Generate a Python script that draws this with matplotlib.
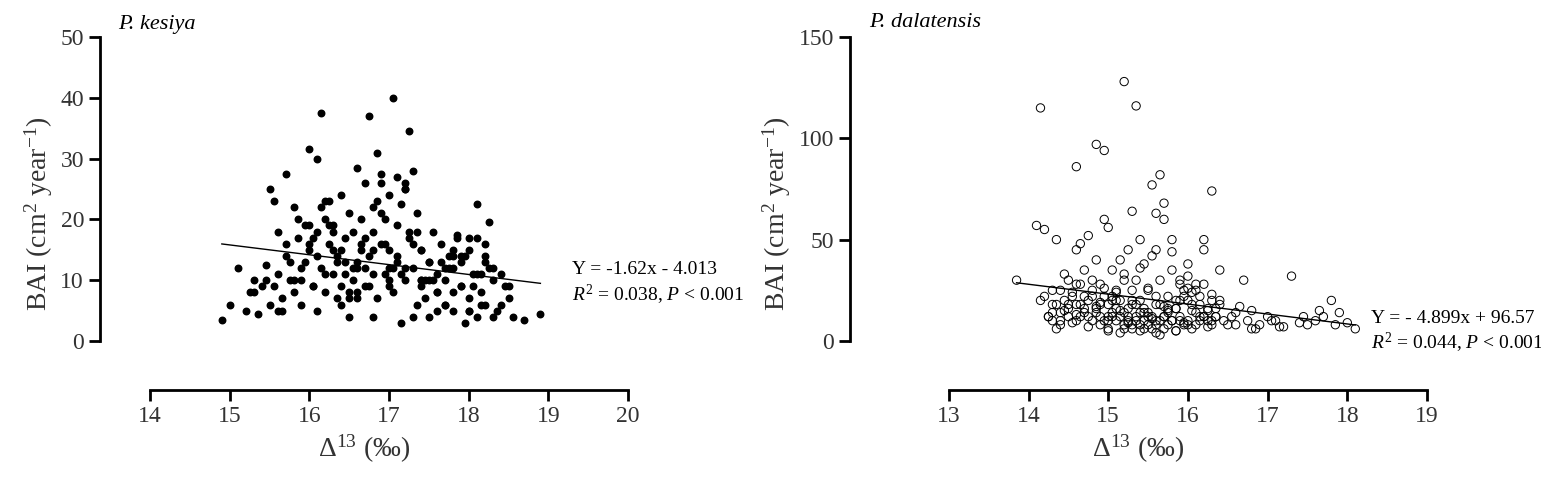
import numpy as np
import matplotlib
matplotlib.use("Agg")
import matplotlib.pyplot as plt

plt.rcParams['font.family'] = ['Liberation Serif', 'DejaVu Serif']
plt.rcParams['mathtext.fontset'] = 'custom'
plt.rcParams['mathtext.rm'] = 'Liberation Serif'
plt.rcParams['mathtext.it'] = 'Liberation Serif:italic'

# ---- P. kesiya (filled) ----
kes_x = [14.9,15.0,15.1,15.2,15.25,15.3,15.35,15.4,15.45,15.5,15.5,15.55,15.6,15.6,15.65,15.7,15.7,15.75,15.8,15.8,
         15.85,15.9,15.9,15.95,16.0,16.0,16.05,16.05,16.1,16.1,16.15,16.15,16.2,16.2,16.25,16.25,16.3,16.3,16.35,16.35,
         16.4,16.4,16.45,16.45,16.5,16.5,16.55,16.55,16.6,16.6,16.65,16.65,16.7,16.7,16.75,16.75,16.8,16.8,16.85,16.85,
         16.9,16.9,16.95,16.95,17.0,17.0,17.05,17.05,17.1,17.1,17.15,17.15,17.2,17.2,17.25,17.25,17.3,17.3,17.35,17.35,
         17.4,17.4,17.45,17.5,17.5,17.55,17.6,17.6,17.65,17.7,17.7,17.75,17.8,17.8,17.85,17.9,17.9,17.95,18.0,18.0,
         18.05,18.1,18.1,18.15,18.2,18.2,18.25,18.3,18.35,18.4,18.45,18.5,18.55,18.7,18.9,
         15.6,15.75,15.9,16.0,16.1,16.2,16.3,16.4,16.5,16.6,16.7,16.8,16.9,17.0,17.1,17.2,17.3,17.4,17.5,17.6,
         17.7,17.8,17.9,18.0,18.1,18.2,18.3,15.8,16.05,16.35,16.55,16.75,16.95,17.15,17.35,17.55,17.75,17.95,18.15,18.4,
         16.15,16.45,16.65,16.85,17.05,17.25,17.45,17.65,17.85,18.05,15.95,16.25,16.6,16.8,17.0,17.2,17.4,17.8,18.0,18.2,
         15.3,15.55,15.7,15.85,16.1,16.3,16.5,16.7,16.9,17.1,17.3,17.5,17.7,17.9,18.1,18.3,18.5,15.45,16.0,16.4,
         16.8,17.2,17.6,18.0,18.25,15.65,16.2,16.6,17.0,17.4,17.8,18.15]
kes_y = [3.5,6,12,5,8,10,4.5,9,12.5,25,6,23,11,5,7,14,27.5,10,8,22,
         17,12,6,19,15,31.5,9,17,30,5,37.5,12,20,8,16,23,11,18,7,14,
         24,9,17,13,21,4,18,10,28.5,8,15,20,12,26,37,9,22,18,31,7,
         16,27.5,11,20,15,24,40,8,13,19,22.5,3,26,10,34.5,17,12,28,6,21,
         9,15,7,13,4,18,11,8,16,6,10,14,5,12,17.5,9,13,3,15,7,
         11,4,22.5,8,14,6,19.5,10,5,11,9,7,4,3.5,4.5,
         18,13,10,16,14,11,19,15,8,13,17,11,21,9,14,12,16,10,13,8,
         12,15,9,17,11,13,12,10,9,13,12,14,16,11,18,10,12,14,11,6,
         22,11,16,23,12,18,10,13,17,9,13,19,7,15,12,25,10,14,5,16,
         8,9,16,20,18,15,7,9,26,27,4,10,6,14,17,4,9,10,19,6,
         4,25,5,5,12,5,23,12,10,15,8,6]

# ---- P. dalatensis (open) ----
dal_x = [13.85,14.1,14.15,14.2,14.25,14.3,14.3,14.35,14.4,14.4,14.45,14.5,14.5,14.55,14.6,14.6,14.65,14.65,14.7,14.7,
         14.75,14.75,14.8,14.8,14.85,14.85,14.9,14.9,14.95,14.95,15.0,15.0,15.05,15.05,15.1,15.1,15.15,15.15,15.2,15.2,
         15.25,15.25,15.3,15.3,15.35,15.35,15.4,15.4,15.45,15.45,15.5,15.5,15.55,15.55,15.6,15.6,15.65,15.65,15.7,15.7,
         15.75,15.75,15.8,15.8,15.85,15.85,15.9,15.9,15.95,15.95,16.0,16.0,16.05,16.1,16.1,16.15,16.2,16.2,16.25,16.3,
         16.3,16.35,16.4,16.5,16.6,16.7,16.75,16.8,16.9,17.0,17.1,17.2,17.3,17.4,17.5,17.6,17.7,17.8,17.9,18.0,18.1,
         14.15,14.6,14.85,14.95,15.2,15.35,15.55,15.65,15.7,16.3,14.35,15.0,15.3,15.4,15.6,15.8,16.0,16.2,
         14.3,14.45,14.6,14.75,14.9,15.05,15.2,15.3,15.45,15.6,15.75,15.9,16.05,16.2,16.35,
         14.4,14.55,14.7,14.85,15.0,15.1,15.25,15.4,15.5,15.65,15.8,15.95,16.1,16.25,16.4,
         14.5,14.65,14.8,14.95,15.1,15.15,15.25,15.35,15.5,15.6,15.7,15.85,16.0,16.15,16.3,
         14.25,14.5,14.7,14.9,15.05,15.2,15.4,15.55,15.7,15.85,16.0,16.15,16.45,16.6,16.8,
         14.2,14.4,14.6,14.8,15.0,15.15,15.3,15.45,15.6,15.75,15.9,16.05,16.25,16.55,17.05,
         14.35,14.55,14.75,14.95,15.05,15.15,15.25,15.35,15.45,15.55,15.65,15.75,15.85,15.95,16.05,
         16.15,16.25,16.35,14.45,14.65,14.85,15.0,15.2,15.4,15.6,15.8,16.0,16.2,16.4,16.65,
         14.3,14.6,14.9,15.1,15.3,15.5,15.7,15.9,16.1,16.3,16.85,17.15,17.45,17.65,17.85]
dal_y = [30,57,20,55,12,18,10,50,25,8,15,30,12,22,45,10,28,18,35,14,
         20,52,25,10,40,16,28,8,22,60,18,5,35,12,25,10,40,15,30,6,
         45,12,25,8,30,10,20,5,38,14,25,8,42,12,18,4,30,10,60,6,
         22,8,35,10,20,5,28,12,25,8,32,10,15,25,8,22,12,45,15,10,
         20,12,18,8,14,30,10,15,8,12,10,7,32,9,8,10,12,20,14,9,6,
         115,86,97,94,128,116,77,82,68,74,18,56,64,50,63,50,26,28,
         14,20,28,12,18,22,14,18,10,22,16,10,18,12,16,
         10,24,16,14,12,20,16,8,12,18,10,22,14,10,20,
         18,12,22,26,16,12,10,18,14,8,12,16,20,10,8,
         12,16,22,12,20,8,14,6,12,16,8,12,10,8,6,
         22,14,18,30,10,20,6,16,10,14,20,24,16,12,10,
         6,9,7,10,14,4,9,12,6,11,3,15,5,9,6,
         18,7,12,33,48,17,6,33,36,45,44,38,50,35,17,
         25,13,19,24,20,26,17,30,28,23,6,7,12,15,8]

kes_fit = (-1.62, 40.1, [14.9, 18.9])
dal_fit = (-4.899, 96.57, [13.85, 18.1])

W, H = 1541, 486
fig = plt.figure(figsize=(W/100, H/100), dpi=100)

def make_ax(left, right, xlim, ylim, ybounds, xbounds, xticks, yticks):
    ax = fig.add_axes([left/W, 1-390/H, (right-left)/W, (390-37)/H])
    ax.set_xlim(*xlim); ax.set_ylim(*ylim)
    for s in ['top', 'right']:
        ax.spines[s].set_visible(False)
    ax.spines['left'].set_bounds(*ybounds)
    ax.spines['bottom'].set_bounds(*xbounds)
    for s in ['left', 'bottom']:
        ax.spines[s].set_linewidth(2)
    ax.set_xticks(xticks); ax.set_yticks(yticks)
    ax.tick_params(width=2, length=8, labelsize=17, labelcolor='#333333')
    ax.set_xlabel(r'$\Delta^{13}$ (‰)', fontsize=20, color='#333333')
    ax.set_ylabel(r'BAI (cm$^2$ year$^{-1}$)', fontsize=20, color='#333333')
    return ax

ax1 = make_ax(100, 628, (13.37, 20), (-8.06, 50), (0, 50), (14, 20), range(14, 21), range(0, 51, 10))
ax1.scatter(kes_x, kes_y, s=22, c='black', zorder=3)
lx = np.array(kes_fit[2]); ax1.plot(lx, kes_fit[0]*lx + kes_fit[1], color='black', lw=1)
ax1.text(13.6, 52, 'P. kesiya', style='italic', fontsize=16, va='center')
ax1.text(19.3, 11.8, 'Y = -1.62x - 4.013', fontsize=14, va='center')
ax1.text(19.3, 7.5, r'$R^2$ = 0.038, $P$ < 0.001', fontsize=14, va='center')

ax2 = make_ax(850, 1427, (11.76, 19), (-24.2, 150), (0, 150), (13, 19), range(13, 20), range(0, 151, 50))
ax2.scatter(dal_x, dal_y, s=36, facecolors='none', edgecolors='black', linewidths=0.7, zorder=3)
lx = np.array(dal_fit[2]); ax2.plot(lx, dal_fit[0]*lx + dal_fit[1], color='black', lw=1)
ax2.text(12.0, 157, 'P. dalatensis', style='italic', fontsize=16, va='center')
ax2.text(18.3, 11, 'Y = - 4.899x + 96.57', fontsize=14, va='center')
ax2.text(18.3, -1, r'$R^2$ = 0.044, $P$ < 0.001', fontsize=14, va='center')

fig.savefig('out.png', dpi=100)
